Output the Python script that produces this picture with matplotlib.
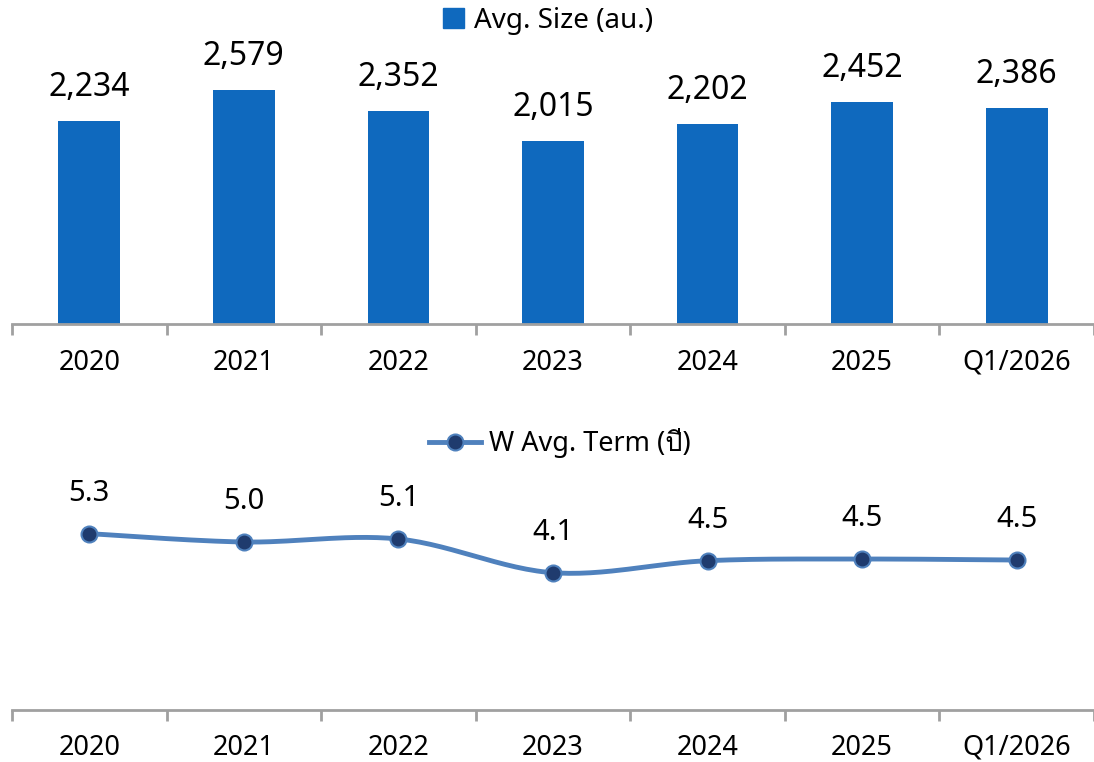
import numpy as np
import matplotlib.pyplot as plt
from matplotlib import font_manager
from matplotlib.ft2font import FT2Font
from matplotlib.lines import Line2D

families = ['Noto Sans', 'DejaVu Sans']
# find an installed family that has Thai glyphs
for f in font_manager.fontManager.ttflist:
    try:
        if 0x0E1B in FT2Font(f.fname).get_charmap():
            if f.name not in families:
                families.append(f.name)
            break
    except Exception:
        pass
plt.rcParams['font.family'] = families

categories = ['2020', '2021', '2022', '2023', '2024', '2025', 'Q1/2026']
avg_size = [2234, 2579, 2352, 2015, 2202, 2452, 2386]
avg_term = [5.28, 5.03, 5.12, 4.11, 4.47, 4.52, 4.49]
term_labels = ['5.3', '5.0', '5.1', '4.1', '4.5', '4.5', '4.5']

bar_color = '#0F69BE'
line_color = '#4F81BD'
marker_color = '#1F3B6E'
axis_color = '#A0A0A0'

W, H = 1094, 762
fig = plt.figure(figsize=(W / 100, H / 100), dpi=100)

def px_axes(x0, y_top, x1, y_bot):
    return fig.add_axes([x0 / W, 1 - y_bot / H, (x1 - x0) / W, (y_bot - y_top) / H])

def style_axis(ax, pad):
    for s in ['top', 'right', 'left']:
        ax.spines[s].set_visible(False)
    ax.spines['bottom'].set_color(axis_color)
    ax.spines['bottom'].set_linewidth(2)
    ax.set_yticks([])
    x = np.arange(len(categories))
    ax.set_xlim(-0.5, len(categories) - 0.5)
    ax.set_xticks(np.arange(len(categories) + 1) - 0.5)
    ax.set_xticklabels([])
    ax.tick_params(axis='x', which='major', length=8, width=2, color=axis_color, direction='out')
    ax.set_xticks(x, minor=True)
    ax.set_xticklabels(categories, minor=True, fontsize=19.5)
    ax.tick_params(axis='x', which='minor', length=0, pad=pad)

x = np.arange(len(categories))

# top: bars
ax1 = px_axes(12, 55, W, 324)
ax1.bar(x, avg_size, width=0.4, color=bar_color)
ax1.set_ylim(0, 2965)
style_axis(ax1, 18)
for xi, v in zip(x, avg_size):
    ax1.annotate(f'{v:,}', (xi, v), xytext=(0, 24), textcoords='offset points',
                 ha='center', va='center', fontsize=23)
h1 = plt.Rectangle((0, 0), 1, 1, color=bar_color)
fig.legend([h1], ['Avg. Size (au.)'], loc='center', bbox_to_anchor=(548 / W, 1 - 21 / H),
           frameon=False, fontsize=20, handlelength=0.75, handleheight=0.75, handletextpad=0.35)

# bottom: smoothed line (Catmull-Rom through the data points)
ax2 = px_axes(12, 440, W, 710)
ax2.set_ylim(0, 270 / 33.4)
pts = np.column_stack([x, avg_term]).astype(float)
ext = np.vstack([pts[0], pts, pts[-1]])
curve = []
for i in range(1, len(ext) - 2):
    p0, p1, p2, p3 = ext[i - 1], ext[i], ext[i + 1], ext[i + 2]
    for t in np.linspace(0, 1, 30):
        c = 0.5 * ((2 * p1) + (-p0 + p2) * t + (2 * p0 - 5 * p1 + 4 * p2 - p3) * t ** 2
                   + (-p0 + 3 * p1 - 3 * p2 + p3) * t ** 3)
        curve.append(c)
curve = np.array(curve)
ax2.plot(curve[:, 0], curve[:, 1], color=line_color, lw=3.5, solid_capstyle='round')
ax2.plot(x, avg_term, 'o', ms=11.5, mfc=marker_color, mec=line_color, mew=1.5)
style_axis(ax2, 17)
for xi, v, lab in zip(x, avg_term, term_labels):
    ax2.annotate(lab, (xi, v), xytext=(0, 29), textcoords='offset points',
                 ha='center', va='center', fontsize=21)
h2 = Line2D([0], [0], color=line_color, lw=3.5, marker='o', ms=11.5,
            mfc=marker_color, mec=line_color, mew=1.5)
fig.legend([h2], ['W Avg. Term (ปี)'], loc='center', bbox_to_anchor=(560 / W, 1 - 443 / H),
           frameon=False, fontsize=19.5, handlelength=1.9, handletextpad=0.3)

fig.savefig('out.png', dpi=100)
